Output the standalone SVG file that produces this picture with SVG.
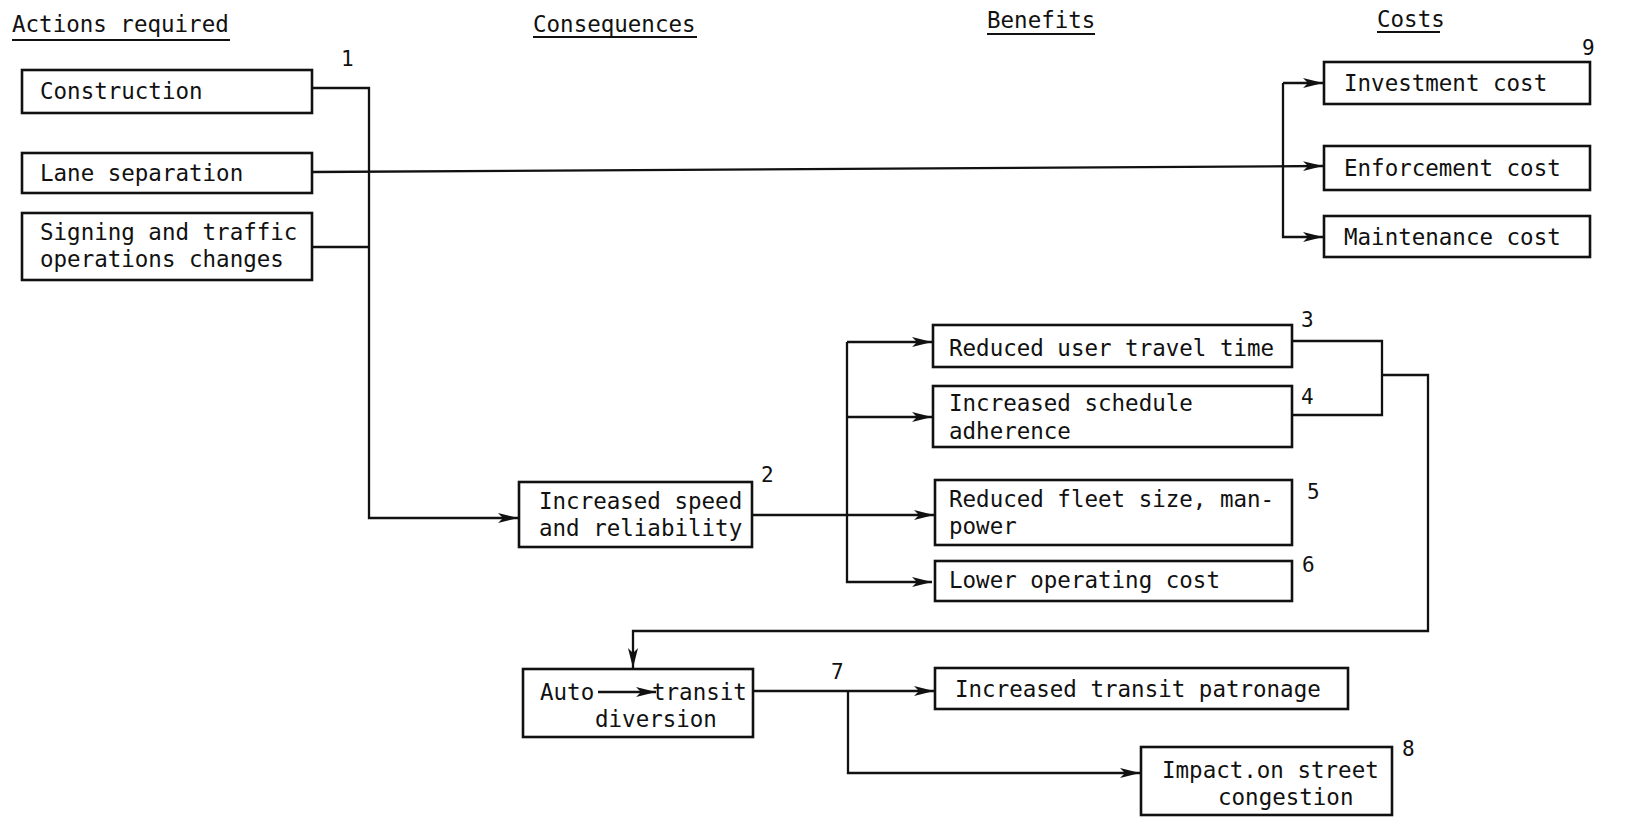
<svg xmlns="http://www.w3.org/2000/svg" width="1626" height="818" viewBox="0 0 1626 818">
<style>
text{font-family:"DejaVu Sans Mono","Liberation Mono",monospace;font-size:22.5px;fill:#111}
.n{font-size:21px}
.box{fill:#fff;stroke:#111;stroke-width:2.6}
.ln{fill:none;stroke:#111;stroke-width:2.3}
.ul{stroke:#111;stroke-width:1.8}
</style>
<defs>
<marker id="ah" markerUnits="userSpaceOnUse" markerWidth="22" markerHeight="12" refX="20" refY="6" orient="auto">
<path d="M0,1 L20,6 L0,11 L5,6 z" fill="#111"/>
</marker>
</defs>
<rect width="1626" height="818" fill="#fff"/>
<g id="headers">
<text x="12" y="32">Actions required</text><line class="ul" x1="12" y1="40" x2="230" y2="40"/>
<text x="533" y="32">Consequences</text><line class="ul" x1="533" y1="37" x2="697" y2="37"/>
<text x="987" y="28">Benefits</text><line class="ul" x1="987" y1="34" x2="1095" y2="34"/>
<text x="1377" y="27">Costs</text><line class="ul" x1="1377" y1="32" x2="1440" y2="32"/>
</g>
<g id="connectors">
<polyline class="ln" points="312,88 369,88 369,518 518,518" marker-end="url(#ah)"/>
<line class="ln" x1="312" y1="247" x2="369" y2="247"/>
<line class="ln" x1="312" y1="172" x2="1323" y2="166" marker-end="url(#ah)"/>
<polyline class="ln" points="1283,83 1283,237 1323,237" marker-end="url(#ah)"/>
<line class="ln" x1="1283" y1="83" x2="1323" y2="83" marker-end="url(#ah)"/>
<line class="ln" x1="752" y1="515" x2="847" y2="515"/>
<polyline class="ln" points="847,342 847,582 932,582" marker-end="url(#ah)"/>
<line class="ln" x1="847" y1="342" x2="932" y2="342" marker-end="url(#ah)"/>
<line class="ln" x1="847" y1="417" x2="932" y2="417" marker-end="url(#ah)"/>
<line class="ln" x1="847" y1="515" x2="934" y2="515" marker-end="url(#ah)"/>
<polyline class="ln" points="1292,341 1382,341 1382,415 1292,415"/>
<polyline class="ln" points="1382,375 1428,375 1428,631 633,631 633,668" marker-end="url(#ah)"/>
<line class="ln" x1="753" y1="691" x2="934" y2="691" marker-end="url(#ah)"/>
<polyline class="ln" points="848,691 848,773 1140,773" marker-end="url(#ah)"/>
</g>
<g id="n1">
<rect class="box" x="22" y="70" width="290" height="43"/>
<text x="40" y="99">Construction</text>
<text class="n" x="341" y="66">1</text>
</g>
<g id="n1b">
<rect class="box" x="22" y="153" width="290" height="40"/>
<text x="40" y="181">Lane separation</text>
</g>
<g id="n1c">
<rect class="box" x="22" y="213" width="290" height="67"/>
<text x="40" y="240">Signing and traffic</text>
<text x="40" y="267">operations changes</text>
</g>
<g id="n2">
<rect class="box" x="519" y="482" width="233" height="65"/>
<text x="539" y="509">Increased speed</text>
<text x="539" y="536">and reliability</text>
<text class="n" x="761" y="482">2</text>
</g>
<g id="n3">
<rect class="box" x="933" y="325" width="359" height="42"/>
<text x="949" y="356">Reduced user travel time</text>
<text class="n" x="1301" y="327">3</text>
</g>
<g id="n4">
<rect class="box" x="933" y="386" width="359" height="61"/>
<text x="949" y="411">Increased schedule</text>
<text x="949" y="439">adherence</text>
<text class="n" x="1301" y="404">4</text>
</g>
<g id="n5">
<rect class="box" x="935" y="480" width="357" height="65"/>
<text x="949" y="507">Reduced fleet size, man-</text>
<text x="949" y="534">power</text>
<text class="n" x="1307" y="499">5</text>
</g>
<g id="n6">
<rect class="box" x="935" y="561" width="357" height="40"/>
<text x="949" y="588">Lower operating cost</text>
<text class="n" x="1302" y="572">6</text>
</g>
<g id="n7">
<rect class="box" x="523" y="669" width="230" height="68"/>
<text x="540" y="700">Auto</text>
<line class="ln" x1="598" y1="692" x2="656" y2="692" stroke-width="1.8" marker-end="url(#ah)"/>
<text x="652" y="700">transit</text>
<text x="595" y="727">diversion</text>
<text class="n" x="831" y="679">7</text>
</g>
<g id="n7a">
<rect class="box" x="935" y="668" width="413" height="41"/>
<text x="955" y="697">Increased transit patronage</text>
</g>
<g id="n8">
<rect class="box" x="1141" y="747" width="251" height="68"/>
<text x="1162" y="778">Impact.on street</text>
<text x="1218" y="805">congestion</text>
<text class="n" x="1402" y="756">8</text>
</g>
<g id="n9a">
<rect class="box" x="1324" y="62" width="266" height="42"/>
<text x="1344" y="91">Investment cost</text>
<text class="n" x="1582" y="55">9</text>
</g>
<g id="n9b">
<rect class="box" x="1324" y="146" width="266" height="44"/>
<text x="1344" y="176">Enforcement cost</text>
</g>
<g id="n9c">
<rect class="box" x="1324" y="216" width="266" height="41"/>
<text x="1344" y="245">Maintenance cost</text>
</g>
</svg>
